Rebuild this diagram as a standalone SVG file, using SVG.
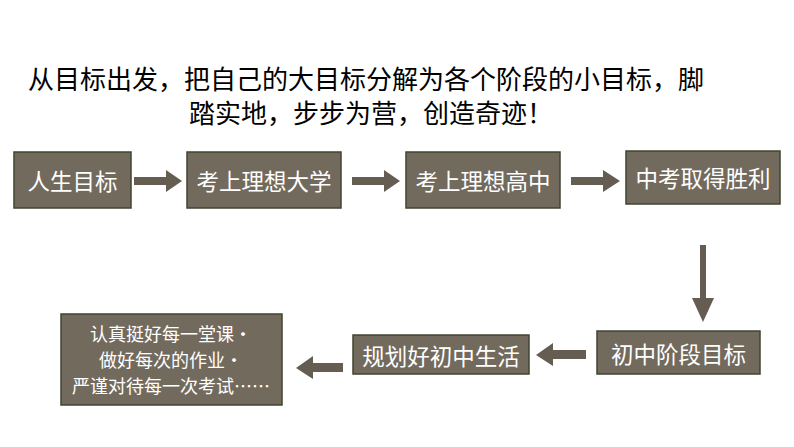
<svg xmlns="http://www.w3.org/2000/svg" width="794" height="447" viewBox="0 0 794 447">
<style>
.b{fill:#736a5e;stroke:#3e4630;stroke-width:1.5}
.t{font-family:"Noto Sans CJK SC",sans-serif;fill:#fff;font-size:22.5px;text-anchor:middle;dominant-baseline:central}
.s{font-size:18px}
.h{font-family:"Noto Sans CJK SC",sans-serif;fill:#000;font-size:26px}
.a{fill:#655c52}
</style>
<rect width="794" height="447" fill="#fff"/>
<text class="h" x="28" y="89">从目标出发，把自己的大目标分解为各个阶段的小目标，脚</text>
<text class="h" x="189" y="123">踏实地，步步为营，创造奇迹！</text>
<g id="connectors" class="a">
<polygon points="134,177 166,177 166,170 182,181 166,192 166,185 134,185"/>
<polygon points="352,177 384,177 384,170 400,181 384,192 384,185 352,185"/>
<polygon points="571,177 603,177 603,170 620,181 603,192 603,185 571,185"/>
<polygon points="700,245 706,245 706,298 714,298 703,322 692,298 700,298"/>
<polygon points="586,350 553,350 553,343 536,355 553,366 553,359 586,359"/>
<polygon points="343,363 313,363 313,356 296,368 313,379 313,372 343,372"/>
</g>
<g id="n1"><rect class="b" x="14" y="152" width="117" height="56"/><text class="t" x="72.5" y="180">人生目标</text></g>
<g id="n2"><rect class="b" x="187" y="152" width="154" height="56"/><text class="t" x="264" y="180">考上理想大学</text></g>
<g id="n3"><rect class="b" x="406" y="152" width="154" height="56"/><text class="t" x="483" y="180">考上理想高中</text></g>
<g id="n4"><rect class="b" x="626" y="151" width="154" height="53"/><text class="t" x="703" y="177">中考取得胜利</text></g>
<g id="n5"><rect class="b" x="597" y="331" width="163" height="43"/><text class="t" x="678.5" y="353">初中阶段目标</text></g>
<g id="n6"><rect class="b" x="353" y="335" width="176" height="39"/><text class="t" x="441" y="355">规划好初中生活</text></g>
<g id="n7"><rect class="b" x="61" y="314" width="221" height="91"/>
<text class="t s" x="171" y="333">认真挺好每一堂课·</text>
<text class="t s" x="171" y="359">做好每次的作业·</text>
<text class="t s" x="171" y="385">严谨对待每一次考试……</text></g>
</svg>
